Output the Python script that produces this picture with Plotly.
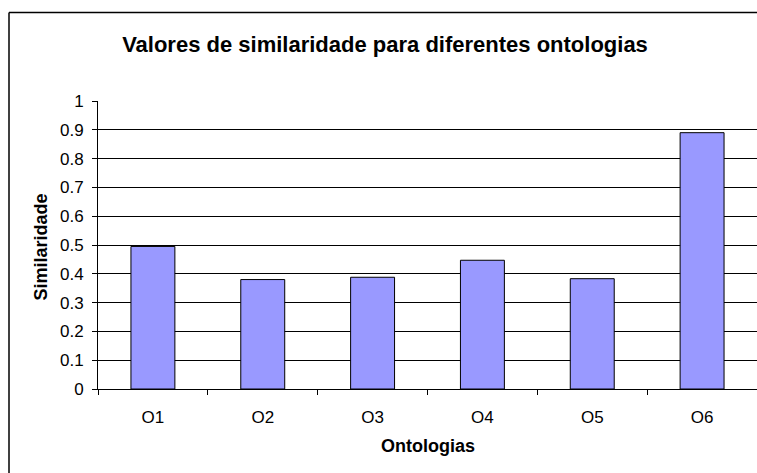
import plotly.graph_objects as go

categories = ["O1", "O2", "O3", "O4", "O5", "O6"]
similaridade = [0.495, 0.38, 0.388, 0.447, 0.383, 0.89]
y_tickvals = [0, 0.1, 0.2, 0.3, 0.4, 0.5, 0.6, 0.7, 0.8, 0.9, 1]
y_ticktext = ["0", "0.1", "0.2", "0.3", "0.4", "0.5", "0.6", "0.7", "0.8", "0.9", "1"]

FONT = "Arial, 'Liberation Sans', sans-serif"

fig = go.Figure(
    go.Bar(
        x=categories,
        y=similaridade,
        marker=dict(color="#9999FF", line=dict(color="#000000", width=1)),
        hoverinfo="x+y",
    )
)

W, H = 757, 473
L, R, T, B = 98, 0, 101, 84
PW, PH = W - L - R, H - T - B

bx0 = -(L - 9) / PW
bx1 = 1.0
by0 = -(H + 10 - (T + PH)) / PH
by1 = ((T + PH) - 12.5) / PH

fig.update_layout(
    width=W,
    height=H,
    margin=dict(l=L, r=R, t=T, b=B, pad=0),
    paper_bgcolor="white",
    plot_bgcolor="white",
    showlegend=False,
    bargap=0.6,
    font=dict(family=FONT, size=17, color="black"),
    title=dict(
        text="<b>Valores de similaridade para diferentes ontologias</b>",
        x=385 / W,
        xanchor="center",
        y=1 - 44.5 / H,
        yanchor="middle",
        yref="container",
        font=dict(family=FONT, size=22, color="black"),
    ),
    xaxis=dict(
        type="category",
        showgrid=False,
        showline=True,
        linecolor="black",
        linewidth=1,
        ticks="outside",
        tickson="boundaries",
        ticklen=5,
        tickcolor="black",
        tickfont=dict(family=FONT, size=17, color="black"),
        ticklabelstandoff=13,
        fixedrange=True,
    ),
    yaxis=dict(
        range=[0, 1],
        tickvals=y_tickvals,
        ticktext=y_ticktext,
        showgrid=True,
        gridcolor="black",
        gridwidth=1,
        showline=True,
        linecolor="black",
        linewidth=1,
        ticks="outside",
        ticklen=5,
        tickcolor="black",
        tickfont=dict(family=FONT, size=17, color="black"),
        ticklabelstandoff=5,
        zeroline=False,
        fixedrange=True,
    ),
    annotations=[
        dict(
            text="<b>Ontologias</b>",
            xref="paper", yref="paper",
            x=(428 - L) / PW, y=-(446 - (T + PH)) / PH,
            xanchor="center", yanchor="middle",
            showarrow=False,
            font=dict(family=FONT, size=18, color="black"),
        ),
        dict(
            text="<b>Similaridade</b>",
            xref="paper", yref="paper",
            x=-(L - 40) / PW, y=((T + PH) - 247.5) / PH,
            xanchor="center", yanchor="middle",
            textangle=-90,
            showarrow=False,
            font=dict(family=FONT, size=18, color="black"),
        ),
    ],
    shapes=[
        dict(
            type="line",
            xref="paper", yref="paper",
            x0=bx0, x1=bx1, y0=by1, y1=by1,
            line=dict(color="black", width=1.5),
            layer="below",
        ),
        dict(
            type="line",
            xref="paper", yref="paper",
            x0=bx0, x1=bx0, y0=by0, y1=by1,
            line=dict(color="black", width=1.5),
            layer="below",
        ),
    ],
)

fig.write_html(
    "out.html",
    config={"displayModeBar": False},
    post_script="document.body.style.margin='0';document.documentElement.style.overflow='hidden';document.body.style.overflow='hidden';",
)
